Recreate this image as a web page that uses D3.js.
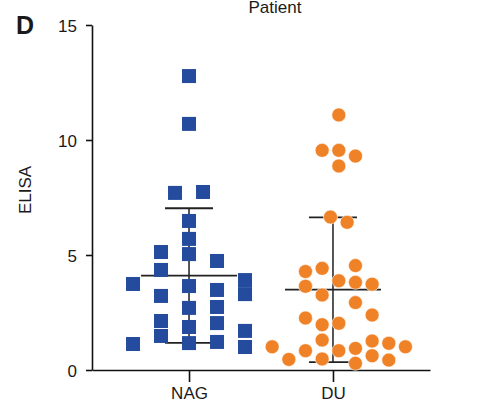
<!DOCTYPE html>
<html>
<head>
<meta charset="utf-8">
<script src="https://cdn.jsdelivr.net/npm/d3@7.9.0/dist/d3.min.js"></script>
<style>
  body { margin: 0; background: #fff; }
  svg { display: block; font-family: 'Liberation Sans', Arial, sans-serif; }
  .axis text { font-size: 17px; fill: #1a1a1a; }
  .axis path, .axis line { stroke: #111; stroke-width: 1.6; }
</style>
</head>
<body>
<svg id="chart" width="490" height="402"></svg>
<script>
// groups on the x axis
const groups = ['NAG', 'DU'];
const yTicks = [0, 5, 10, 15];

// ELISA values
const nagValues = [12.78, 10.70, 7.70, 7.74, 6.48, 5.70, 5.04, 5.13, 4.74, 4.35,
  3.74, 3.91, 3.30, 3.65, 3.48, 3.22, 2.70, 2.74, 2.13, 2.04,
  1.87, 1.70, 1.48, 1.13, 1.17, 1.22, 1.00];
// beeswarm slot of each point (half-steps from the group centre)
const nagSlot = [0, 0, -1, 1, 0, 0, 0, -2, 2, -2,
  -4, 4, 4, 0, 2, -2, 0, 2, -2, 2,
  0, 4, -2, -4, 0, 2, 4];

const duValues = [11.09, 9.55, 9.55, 9.30, 8.87, 6.65, 6.42,
  4.28, 4.42, 4.54, 3.88, 3.81, 3.73, 3.64, 3.26,
  2.93, 2.39, 2.26, 2.03, 1.97,
  1.30, 1.26, 1.16, 1.01, 1.01, 0.94, 0.84, 0.84, 0.62, 0.46, 0.43, 0.48, 0.29];
const duSlot = [1, -1, 1, 3, 1, 0, 2,
  -3, -1, 3, 1, 3, 5, -3, -1,
  3, 5, -3, 1, -1,
  -1, 5, 7, -7, 9, 3, -3, 1, 5, -5, 7, -1, 3];

const svg = d3.select('#chart');

const x = d3.scalePoint().domain(groups).range([92, 430]).padding(0.674);
const y = d3.scaleLinear().domain([0, 15]).range([370, 25]);

// slot -> pixel offset, per group
const slotScale = {
  NAG: d3.scaleLinear().domain([0, 1]).range([0, 14]),
  DU: d3.scaleLinear().domain([0, 1]).range([-2.5, 5.83])
};

const colors = { NAG: '#244b9d', DU: '#ef8227' };

const series = [
  { name: 'NAG', values: nagValues, slots: nagSlot },
  { name: 'DU', values: duValues, slots: duSlot }
];

// axes
svg.append('g')
  .attr('class', 'axis')
  .attr('transform', 'translate(92,0)')
  .call(d3.axisLeft(y).tickValues(yTicks).tickSize(6).tickSizeOuter(0).tickPadding(9))
  .call(g => g.selectAll('.tick text').attr('dy', '0.36em'));

svg.append('g')
  .attr('class', 'axis')
  .attr('transform', 'translate(0,370)')
  .call(d3.axisBottom(x).tickSize(12).tickSizeOuter(0).tickPadding(5))
  .call(g => g.select('.domain').attr('stroke', '#333'))
  .call(g => g.selectAll('.tick line').attr('stroke', '#333'));

// mean +/- SD bars (behind points)
series.forEach(s => {
  const m = d3.mean(s.values);
  const sd = d3.deviation(s.values);
  const cx = x(s.name);
  const g = svg.append('g').attr('stroke', '#222').attr('stroke-width', 1.8);
  g.append('line').attr('x1', cx).attr('x2', cx).attr('y1', y(m + sd)).attr('y2', y(m - sd)).attr('stroke', '#444');
  g.append('line').attr('x1', cx - 48).attr('x2', cx + 48).attr('y1', y(m)).attr('y2', y(m));
  g.append('line').attr('x1', cx - 24).attr('x2', cx + 24).attr('y1', y(m + sd)).attr('y2', y(m + sd));
  g.append('line').attr('x1', cx - 24).attr('x2', cx + 24).attr('y1', y(m - sd)).attr('y2', y(m - sd));
});

// NAG squares
svg.append('g').selectAll('rect')
  .data(nagValues.map((v, i) => ({ v, slot: nagSlot[i] })))
  .join('rect')
  .attr('x', d => x('NAG') + slotScale.NAG(d.slot) - 7)
  .attr('y', d => y(d.v) - 7)
  .attr('width', 14)
  .attr('height', 14)
  .attr('fill', colors.NAG);

// DU circles
svg.append('g').selectAll('circle')
  .data(duValues.map((v, i) => ({ v, slot: duSlot[i] })))
  .join('circle')
  .attr('cx', d => x('DU') + slotScale.DU(d.slot))
  .attr('cy', d => y(d.v))
  .attr('r', 7)
  .attr('fill', colors.DU)
  .attr('stroke', '#fff')
  .attr('stroke-width', 0.6);

// labels
svg.append('text')
  .attr('transform', 'translate(31,190) rotate(-90)')
  .attr('text-anchor', 'middle')
  .style('font-size', '17px')
  .attr('fill', '#1a1a1a')
  .text('ELISA');

svg.append('text')
  .attr('x', 275).attr('y', 13)
  .attr('text-anchor', 'middle')
  .style('font-size', '17px')
  .attr('fill', '#1a1a1a')
  .text('Patient');

svg.append('text')
  .attr('x', 16).attr('y', 34)
  .style('font-size', '25px')
  .style('font-weight', 'bold')
  .attr('fill', '#1a1a1a')
  .text('D');
</script>
</body>
</html>
